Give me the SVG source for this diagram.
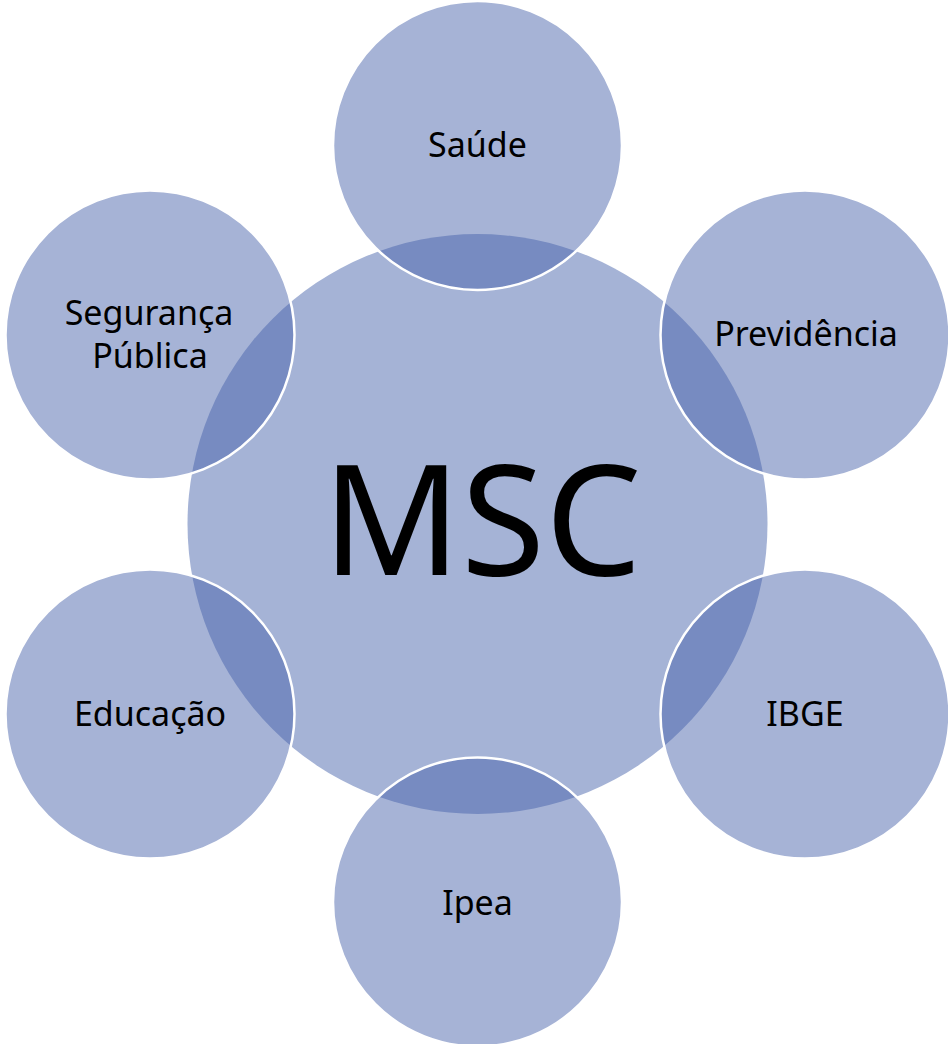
<svg xmlns="http://www.w3.org/2000/svg" width="948" height="1044" viewBox="0 0 948 1044">
<style>
.main{fill:#a5b3d6;}
.sat{fill:#4461a9;fill-opacity:0.48;stroke:#ffffff;stroke-width:2.5;}
.lbl{font-family:"Noto Sans","Open Sans",sans-serif;font-size:34px;fill:#000;text-anchor:middle;dominant-baseline:central;}
.big{font-family:"Noto Sans","Open Sans",sans-serif;font-size:153px;fill:#000;text-anchor:middle;}
</style>
<rect width="948" height="1044" fill="#ffffff"/>
<g id="msc">
<circle class="main" cx="477.5" cy="524" r="290"/>
<text class="big" x="482" y="575">MSC</text>
</g>
<g id="saude"><circle class="sat" cx="477.5" cy="145.5" r="144.5"/><text class="lbl" x="477.5" y="144">Saúde</text></g>
<g id="previdencia"><circle class="sat" cx="805" cy="335" r="144.5"/><text class="lbl" x="806" y="333">Previdência</text></g>
<g id="ibge"><circle class="sat" cx="805" cy="714" r="144.5"/><text class="lbl" x="805" y="713">IBGE</text></g>
<g id="ipea"><circle class="sat" cx="477.5" cy="902" r="144.5"/><text class="lbl" x="477.5" y="902">Ipea</text></g>
<g id="educacao"><circle class="sat" cx="150" cy="714" r="144.5"/><text class="lbl" x="150" y="713">Educação</text></g>
<g id="seguranca"><circle class="sat" cx="150" cy="335" r="144.5"/><text class="lbl" x="149" y="312">Segurança</text><text class="lbl" x="150" y="355">Pública</text></g>
<g id="connectors"></g>
</svg>
